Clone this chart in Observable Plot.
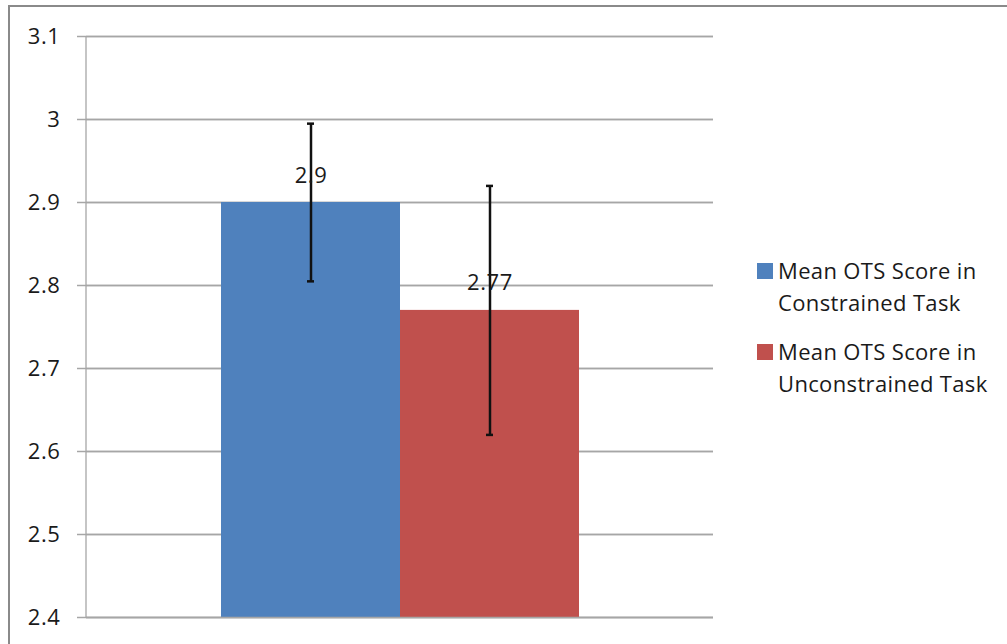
<!DOCTYPE html>
<html>
<head>
<meta charset="utf-8">
<script src="https://cdn.jsdelivr.net/npm/d3@7"></script>
<script src="https://cdn.jsdelivr.net/npm/@observablehq/plot@0.6"></script>
<style>
  html, body { margin: 0; padding: 0; background: #fff; overflow: hidden; }
  #wrap { position: relative; width: 1007px; height: 644px; }
  #frame { position: absolute; left: 8px; top: 5px; width: 1100px; height: 700px; border: 2px solid #8a8a8a; box-sizing: border-box; }
  #chart { position: absolute; left: 0; top: 0; }
  #chart svg text { letter-spacing: 0.6px; }
  #legend { position: absolute; left: 757px; top: 254px; font-family: "Open Sans", Lato, sans-serif; font-size: 22px; letter-spacing: 0.35px; color: #1a1a1a; line-height: 32px; }
  .item { display: flex; align-items: flex-start; margin-bottom: 17px; }
  .sw { width: 16px; height: 16px; margin-top: 9px; margin-right: 5px; flex: none; }
</style>
</head>
<body>
<div id="wrap">
  <div id="frame"></div>
  <div id="chart"></div>
  <div id="legend"></div>
</div>
<script>
const series = ["Mean OTS Score in Constrained Task", "Mean OTS Score in Unconstrained Task"];
const legendLines = [["Mean OTS Score in", "Constrained Task"], ["Mean OTS Score in", "Unconstrained Task"]];
const means = [2.9, 2.77];
const errors = [0.095, 0.15];
const valueLabels = ["2.9", "2.77"];
const colors = ["#4F81BD", "#C0504D"];
const yTicks = [2.4, 2.5, 2.6, 2.7, 2.8, 2.9, 3.0, 3.1];
const yMin = 2.4, yMax = 3.1;

const data = series.map((s, i) => ({
  series: s, mean: means[i], err: errors[i], label: valueLabels[i],
  lo: means[i] - errors[i], hi: means[i] + errors[i]
}));

const font = "'Open Sans', Lato, sans-serif";
const gridColor = "#a6a6a6";

const plot = Plot.plot({
  width: 1007,
  height: 644,
  marginLeft: 86,
  marginRight: 294,
  marginTop: 36,
  marginBottom: 27,
  style: { fontFamily: font, fontSize: "22px", color: "#1a1a1a", background: "transparent" },
  x: { type: "band", domain: series, paddingInner: 0, paddingOuter: 0.742, axis: null },
  y: { domain: [yMin, yMax], ticks: yTicks, tickFormat: d => String(+d.toFixed(1)), label: null, tickSize: 0 },
  color: { domain: series, range: colors },
  marks: [
    Plot.gridY(yTicks, { stroke: gridColor, strokeOpacity: 1, strokeWidth: 1.3 }),
    Plot.tickY(yTicks, { y: d => d, stroke: gridColor, strokeWidth: 1.3, insetLeft: -9 }),
    Plot.axisY({ ticks: yTicks, tickFormat: d => String(+d.toFixed(1)), tickSize: 0, tickPadding: 26, fontSize: 22, label: null }),
    Plot.barY(data, { x: "series", y1: yMin, y2: "mean", fill: "series" }),
    Plot.ruleY([yMin], { stroke: gridColor, strokeWidth: 1.3 }),
    Plot.ruleX(data, { x: "series", y1: "lo", y2: "hi", stroke: "#111", strokeWidth: 2.5 }),
    Plot.tickY(data, { x: "series", y: "lo", stroke: "#111", strokeWidth: 2.5, insetLeft: 86, insetRight: 86 }),
    Plot.tickY(data, { x: "series", y: "hi", stroke: "#111", strokeWidth: 2.5, insetLeft: 86, insetRight: 86 }),
    Plot.text(data, { x: "series", y: "mean", text: "label", dy: -27, fontSize: 22, fill: "#1a1a1a" })
  ]
});
document.getElementById("chart").appendChild(plot);

// vertical axis line at the left edge of the x scale's range, spanning the y domain
const xs = plot.scale("x"), ys = plot.scale("y");
const yScale = d3.scaleLinear().domain(ys.domain).range(ys.range);
d3.select(plot).append("line")
  .attr("x1", xs.range[0]).attr("x2", xs.range[0])
  .attr("y1", yScale(yMax)).attr("y2", yScale(yMin))
  .attr("stroke", gridColor).attr("stroke-width", 1.3);

const legend = document.getElementById("legend");
series.forEach((s, i) => {
  const item = document.createElement("div");
  item.className = "item";
  const sw = document.createElement("div");
  sw.className = "sw";
  sw.style.background = colors[i];
  const txt = document.createElement("div");
  txt.innerHTML = legendLines[i].join("<br>");
  item.appendChild(sw);
  item.appendChild(txt);
  legend.appendChild(item);
});
</script>
</body>
</html>
